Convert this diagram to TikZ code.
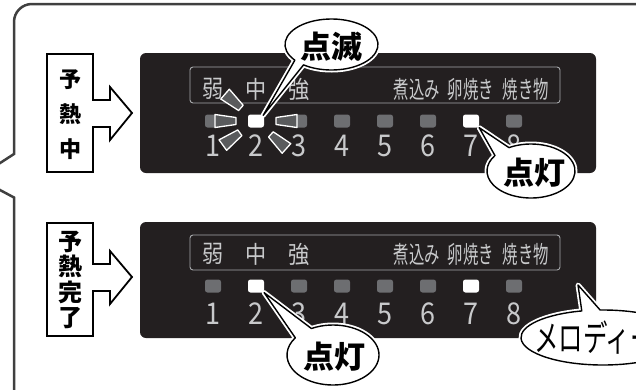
\documentclass[tikz,border=0pt]{standalone}
\usepackage{fontspec}
\usepackage{graphicx}
\usetikzlibrary{calc}
\newfontfamily\jp{Noto Sans CJK JP}
\definecolor{panel}{HTML}{231F20}
\definecolor{ledoff}{HTML}{6D6E71}
\definecolor{rayfill}{HTML}{5A5B5D}
\definecolor{lblgray}{HTML}{C8C9CB}
\definecolor{boxgray}{HTML}{A7A9AC}
\definecolor{framegray}{HTML}{404040}
\begin{document}
\begin{tikzpicture}[x=1pt,y=-1pt,
 frame/.style={draw=framegray,line width=2.5pt},
 panelbg/.style={fill=panel,rounded corners=6pt},
 lblbox/.style={draw=boxgray,line width=0.9pt,rounded corners=3pt},
 led/.style={rectangle,fill=ledoff,minimum width=16pt,minimum height=13pt,inner sep=0pt,rounded corners=2.5pt},
 ledon/.style={led,fill=white},
 digit/.style={text=lblgray,font=\jp\fontsize{30}{30}\selectfont,inner sep=0pt},
 lbl/.style={text=lblgray,font=\jp\fontsize{24}{24}\selectfont,inner sep=0pt},
 ray/.style={fill=rayfill,draw=white,line width=1.3pt,line join=round},
 tagbox/.style={draw=black,fill=white,line width=1.8pt,line join=miter},
 tagtext/.style={align=center,inner sep=0pt},
 callout/.style={draw=black,fill=white,line width=1.4pt,line join=round,preaction={draw=white,line width=5pt,line join=round}},
 calltext/.style={font=\jp\bfseries\fontsize{31}{31}\selectfont,inner sep=0pt},
]
\useasboundingbox (0,0) rectangle (636,389);
\clip (0,0) rectangle (636,389);
% outer frame
\draw[frame] (640,4) -- (32,4) .. controls (22,4) and (14,12) .. (14,22) -- (14,154) -- (-3,165);
\draw[frame] (-3,188.4) -- (14,197.5) -- (14,392);
% panels
\path[panelbg] (140,53) rectangle (596,173);
\path[panelbg] (140,222) rectangle (596,338);
\path[lblbox] (190,67) rectangle (560,103);
\path[lblbox] (190,235) rectangle (560,270);
% top LEDs
\foreach \i in {1,3,4,5,6,8} \node[led] (t\i) at ({213+43*(\i-1)},121) {};
\node[ledon] (t2) at (256,121) {};
\node[ledon] (t7) at (471,121) {};
% blink rays
\foreach \a in {0,42,144,180,221}
 \path[ray] ($(t2)+(\a:20)+(\a+90:3.5)$) -- ($(t2)+(\a:20)+(\a-90:3.5)$) -- ($(t2)+(\a:41)+(\a-90:6.5)$) -- ($(t2)+(\a:41)+(\a+90:6.5)$) -- cycle;
% bottom LEDs
\foreach \i in {1,3,4,5,6,8} \node[led] (b\i) at ({213+43*(\i-1)},286) {};
\node[ledon] (b2) at (256,286) {};
\node[ledon] (b7) at (471,286) {};
% digits
\foreach \i in {1,...,8} {
 \node[digit] (tn\i) at ({213+43*(\i-1)},146) {\scalebox{0.9}[1]{\i}};
 \node[digit] (bn\i) at ({213+43*(\i-1)},314) {\scalebox{0.9}[1]{\i}};
}
% labels
\foreach \y/\p in {89/t,254/b} {
 \node[lbl] (\p l1) at (213,\y) {\scalebox{0.88}[1]{弱}};
 \node[lbl] (\p l2) at (256,\y) {\scalebox{0.88}[1]{中}};
 \node[lbl] (\p l3) at (299,\y) {\scalebox{0.88}[1]{強}};
 \node[lbl] (\p l4) at (417,\y) {\scalebox{0.64}[1]{煮込み}};
 \node[lbl] (\p l5) at (471,\y) {\scalebox{0.64}[1]{卵焼き}};
 \node[lbl] (\p l6) at (526,\y) {\scalebox{0.64}[1]{焼き物}};
}
% tag boxes
\draw[tagbox] (47,54) -- (93,54) -- (93,100) -- (110,100) -- (110,87) -- (132,113) -- (110,140) -- (110,127) -- (93,127) -- (93,172) -- (47,172) -- cycle;
\node[tagtext,font=\jp\bfseries\fontsize{22}{35}\selectfont] (tag1) at (70,115) {予\\熱\\中};
\draw[tagbox] (47,223) -- (93,223) -- (93,264) -- (110,264) -- (110,251) -- (132,277) -- (110,304) -- (110,291) -- (93,291) -- (93,336) -- (47,336) -- cycle;
\node[tagtext,font=\jp\bfseries\fontsize{24}{25.3}\selectfont] (tag2) at (70,280) {予\\熱\\完\\了};
% callout: blink
\coordinate (e1) at (331.5,44.5);
\path[callout] ($(e1)+(127:46.5 and 25.5)$) -- ($(t2.north east)+(-1,1)$) -- ($(e1)+(142:46.5 and 25.5)$) arc[start angle=142,end angle=487,x radius=46.5,y radius=25.5] -- cycle;
\node[calltext] (blink) at (331,47) {点滅};
% callout: lit top
\coordinate (e2) at (531,171);
\path[callout] ($(e2)+(215:44 and 27)$) -- (t7.south east) -- ($(e2)+(240:44 and 27)$) arc[start angle=240,end angle=575,x radius=44,y radius=27] -- cycle;
\node[calltext] (lit1) at (534,173) {点灯};
% callout: lit bottom
\coordinate (e3) at (333,355);
\path[callout] ($(e3)+(215:46 and 30)$) -- (b2.south east) -- ($(e3)+(242:46 and 30)$) arc[start angle=242,end angle=575,x radius=46,y radius=30] -- cycle;
\node[calltext] (lit2) at (334,357) {点灯};
% callout: melody
\coordinate (e4) at (603,337.5);
\coordinate (mtip) at (578,285);
\path[callout] ($(e4)+(255:82 and 27.5)$) -- (mtip) -- ($(e4)+(268:82 and 27.5)$) arc[start angle=268,end angle=615,x radius=82,y radius=27.5] -- cycle;
\node[anchor=west,inner sep=0pt,font=\jp\fontsize{36}{36}\selectfont] (melody) at (534,338) {\scalebox{0.68}[1]{メロディー}};
\end{tikzpicture}
\end{document}
